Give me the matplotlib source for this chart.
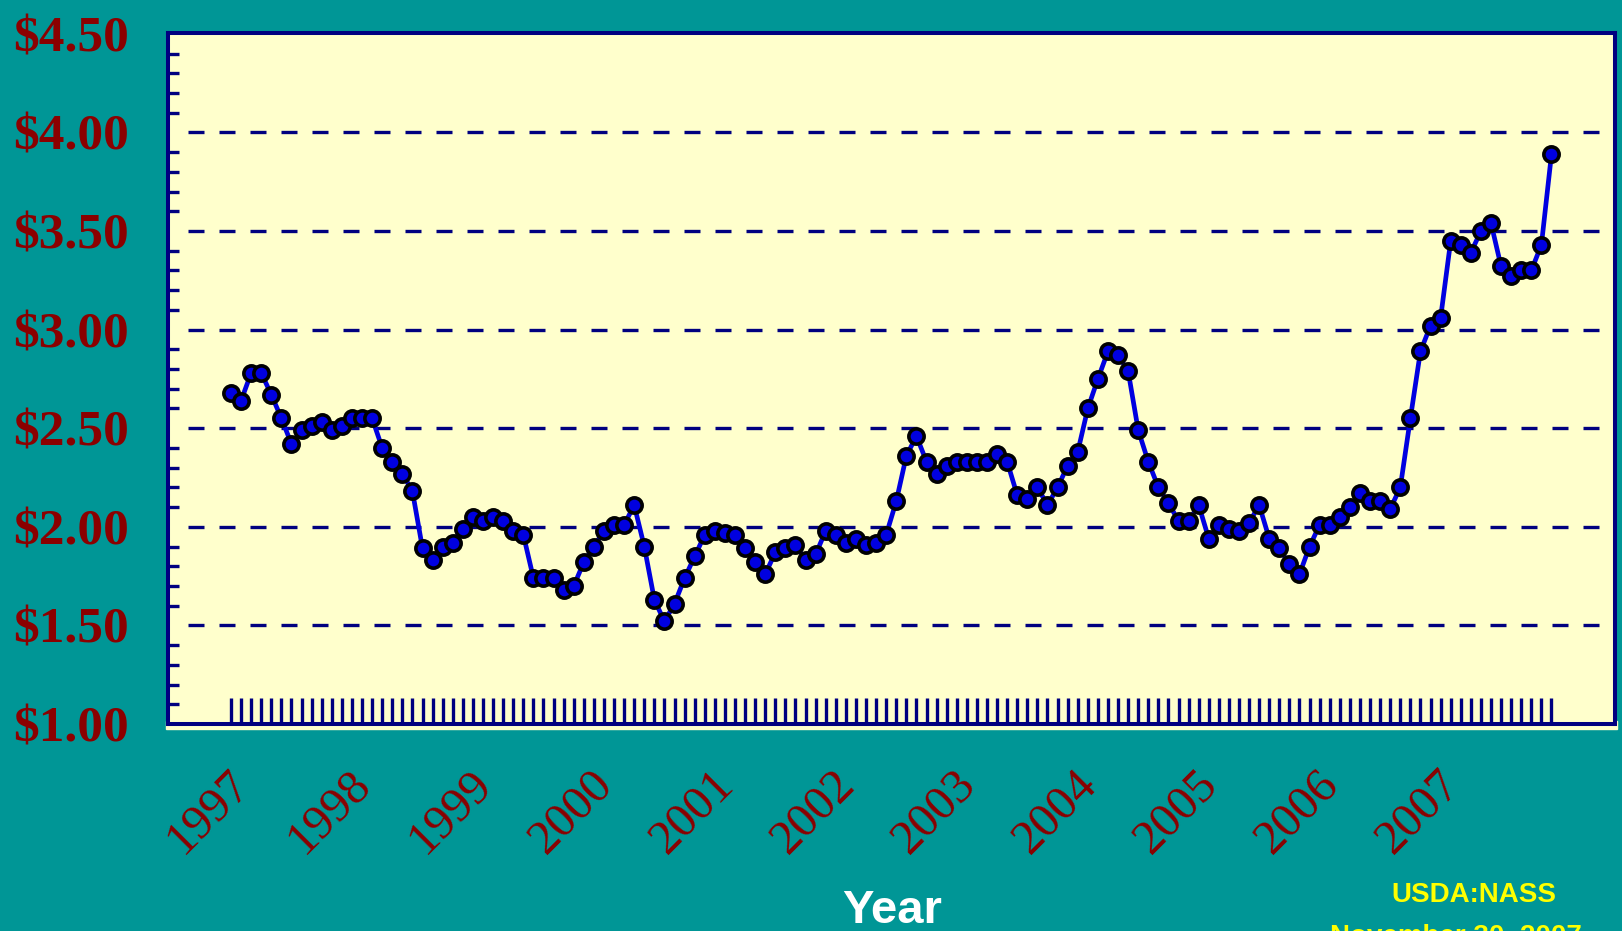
import numpy as np
from matplotlib import pyplot as plt
from matplotlib import transforms
from matplotlib.patches import Rectangle

# 月度价格（美元/蒲式耳）
prices = [2.68, 2.64, 2.78, 2.78, 2.67, 2.55, 2.42, 2.49, 2.51, 2.53, 2.49, 2.51,
          2.55, 2.55, 2.55, 2.40, 2.33, 2.27, 2.18, 1.89, 1.83, 1.90, 1.92, 1.99,
          2.05, 2.03, 2.05, 2.03, 1.98, 1.96, 1.74, 1.74, 1.74, 1.68, 1.70, 1.82,
          1.90, 1.98, 2.01, 2.01, 2.11, 1.90, 1.63, 1.52, 1.61, 1.74, 1.85, 1.96,
          1.98, 1.97, 1.96, 1.89, 1.82, 1.76, 1.87, 1.89, 1.91, 1.83, 1.86, 1.98,
          1.96, 1.92, 1.94, 1.91, 1.92, 1.96, 2.13, 2.36, 2.46, 2.33, 2.27, 2.31,
          2.33, 2.33, 2.33, 2.33, 2.37, 2.33, 2.16, 2.14, 2.20, 2.11, 2.20, 2.31,
          2.38, 2.60, 2.75, 2.89, 2.87, 2.79, 2.49, 2.33, 2.20, 2.12, 2.03, 2.03,
          2.11, 1.94, 2.01, 1.99, 1.98, 2.02, 2.11, 1.94, 1.89, 1.81, 1.76, 1.90,
          2.01, 2.01, 2.05, 2.10, 2.17, 2.13, 2.13, 2.09, 2.20, 2.55, 2.89, 3.02,
          3.06, 3.45, 3.43, 3.39, 3.50, 3.54, 3.32, 3.27, 3.30, 3.30, 3.43, 3.89]
years = ['1997', '1998', '1999', '2000', '2001', '2002',
         '2003', '2004', '2005', '2006', '2007']
y_major = [1.0, 1.5, 2.0, 2.5, 3.0, 3.5, 4.0, 4.5]
y_labels = ['$1.00', '$1.50', '$2.00', '$2.50', '$3.00', '$3.50', '$4.00', '$4.50']

teal = '#009696'
navy = '#000080'
red = '#8B0000'
blue = '#0000E0'

W, H = 1622, 931
fig = plt.figure(figsize=(W / 100, H / 100), dpi=100, facecolor=teal)
ax = fig.add_axes([168 / W, 1 - 724 / H, (1615 - 168) / W, (724 - 32.5) / H])
ax.set_facecolor('#FFFFCC')

# 坐标轴下方的黄色细条
fig.patches.append(Rectangle((166 / W, 1 - 729 / H), (1617 - 166) / W, 8 / H,
                             transform=fig.transFigure, color='#FFFFCC', zorder=-1))

x = np.arange(len(prices))
ax.set_xlim(-6.25, 137.3)
ax.set_ylim(1.0, 4.5066)

# 水平虚线网格
ax.hlines(y_major[1:-1], -4.3, 137.3, colors=navy, linewidth=2.4,
          linestyles=(0, (4.8, 4.5)), zorder=1)

ax.plot(x, prices, color=blue, linewidth=3.4, marker='o', markersize=11,
        markerfacecolor=blue, markeredgecolor='black', markeredgewidth=2.6, zorder=3)

for s in ax.spines.values():
    s.set_color(navy)
    s.set_linewidth(2.9)

# y轴刻度
ax.set_yticks(y_major)
ax.set_yticklabels(y_labels, fontsize=37, color=red, family='Liberation Serif',
                   fontweight='bold')
ax.tick_params(axis='y', which='major', length=0, pad=28)
minor = [round(v, 1) for v in np.arange(1.1, 4.5, 0.1) if round(v * 10) % 5 != 0]
ax.set_yticks(minor, minor=True)
ax.tick_params(axis='y', which='minor', direction='in', length=8, width=2.4, color=navy)

# x轴：每月一个刻度
ax.set_xticks(x)
ax.set_xticklabels([])
ax.tick_params(axis='x', direction='in', length=18.7, width=2.4, color=navy)

# 年份标签
trans = transforms.blended_transform_factory(ax.transData, ax.transAxes)
for k, yr in enumerate(years):
    ax.text(-0.3 + 12 * k, -0.055, yr, transform=trans, rotation=45,
            rotation_mode='anchor', ha='right', va='top', fontsize=35,
            color=red, family='Liberation Serif')

fig.text(892 / W, 1 - 911 / H, 'Year', color='white', fontsize=34,
         fontweight='bold', family='Liberation Sans', ha='center', va='center')
fig.text(1474 / W, 1 - 895 / H, 'USDA:NASS', color='yellow', fontsize=20,
         fontweight='bold', family='Liberation Sans', ha='center', va='center')
fig.text(1330 / W, 1 - 924 / H, 'November 30, 2007', color='yellow', fontsize=20,
         fontweight='bold', family='Liberation Sans', ha='left', va='top')

plt.savefig('out.png', dpi=100, facecolor=teal)
